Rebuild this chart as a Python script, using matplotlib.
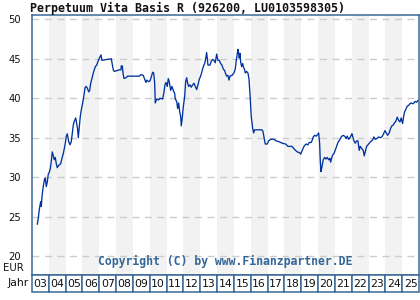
import matplotlib
matplotlib.use("Agg")
import matplotlib.pyplot as plt
from matplotlib.patches import Rectangle

title = "Perpetuum Vita Basis R (926200, LU0103598305)"
copyright_text = "Copyright (C) by www.Finanzpartner.DE"
year_labels = ["03", "04", "05", "06", "07", "08", "09", "10", "11", "12", "13", "14",
               "15", "16", "17", "18", "19", "20", "21", "22", "23", "24", "25"]
first_year = 2003
y_ticks = [20, 25, 30, 35, 40, 45, 50]

# time as years elapsed since start of 2003
t = [0.315, 0.374, 0.434, 0.517, 0.553, 0.594, 0.654, 0.731, 0.790, 0.850, 0.909, 0.969,
     1.028, 1.087, 1.147, 1.206, 1.266, 1.325, 1.384, 1.444, 1.503, 1.586, 1.705, 1.783,
     1.860, 1.919, 1.979, 2.038, 2.097, 2.181, 2.258, 2.335, 2.395, 2.454, 2.513, 2.597,
     2.656, 2.715, 2.751, 2.810, 2.870, 2.929, 3.012, 3.090, 3.149, 3.209, 3.286, 3.369,
     3.428, 3.488, 3.565, 3.642, 3.702, 3.761, 3.844, 3.963, 4.100, 4.159, 4.397, 4.712,
     4.831, 4.890, 5.187, 5.288, 5.306, 5.366, 5.407, 5.466, 5.585, 5.686, 6.376, 6.477,
     6.613, 6.697, 6.774, 6.833, 6.934, 7.011, 7.089, 7.172, 7.231, 7.291, 7.326, 7.409,
     7.528, 7.605, 7.766, 7.843, 7.903, 7.962, 8.039, 8.099, 8.158, 8.241, 8.318, 8.396,
     8.479, 8.515, 8.598, 8.657, 8.717, 8.776, 8.835, 8.871, 8.930, 8.990, 9.073, 9.132,
     9.192, 9.251, 9.311, 9.388, 9.465, 9.548, 9.626, 9.703, 9.786, 9.863, 9.941, 10.024,
     10.101, 10.178, 10.262, 10.321, 10.380, 10.458, 10.577, 10.654, 10.737, 10.814, 10.891,
     10.975, 11.052, 11.129, 11.212, 11.289, 11.367, 11.450, 11.509, 11.569, 11.646, 11.705,
     11.765, 11.884, 12.002, 12.080, 12.139, 12.199, 12.240, 12.282, 12.317, 12.359, 12.401,
     12.460, 12.520, 12.579, 12.638, 12.674, 12.757, 12.834, 12.894, 12.953, 13.030, 13.114,
     13.173, 13.232, 13.387, 13.666, 13.725, 13.785, 13.862, 13.981, 14.064, 14.183, 14.379,
     14.498, 14.676, 14.872, 15.074, 15.211, 15.449, 15.609, 15.764, 15.906, 15.966, 16.043,
     16.162, 16.281, 16.400, 16.477, 16.595, 16.655, 16.714, 16.797, 16.892, 16.976, 17.035,
     17.094, 17.130, 17.172, 17.231, 17.309, 17.392, 17.469, 17.546, 17.629, 17.706, 17.748,
     17.807, 17.867, 17.944, 18.021, 18.105, 18.182, 18.283, 18.378, 18.479, 18.580, 18.675,
     18.734, 18.818, 18.895, 18.972, 19.014, 19.133, 19.210, 19.293, 19.370, 19.447, 19.507,
     19.608, 19.685, 19.744, 19.804, 19.887, 19.964, 20.042, 20.125, 20.244, 20.321, 20.398,
     20.499, 20.600, 20.695, 20.796, 20.897, 20.974, 21.052, 21.135, 21.230, 21.313, 21.390,
     21.468, 21.551, 21.628, 21.705, 21.789, 21.866, 21.943, 22.026, 22.086, 22.145, 22.222,
     22.299, 22.383, 22.460, 22.537, 22.620, 22.698, 22.775, 22.858, 22.935]
price = [24.05, 24.8, 25.9, 26.9, 26.3, 27.5, 28.6, 29.6, 29.9, 28.8, 29.4, 30.4,
         30.6, 31.1, 32.0, 33.2, 32.7, 32.2, 32.5, 31.7, 31.2, 31.5, 31.7, 32.4,
         33.0, 33.6, 34.3, 35.2, 35.5, 34.5, 34.1, 34.5, 35.6, 36.6, 37.1, 37.5,
         36.8, 36.0, 35.0, 36.3, 37.7, 38.5, 39.4, 40.4, 41.3, 41.5, 41.3, 40.8,
         41.0, 41.9, 42.5, 43.2, 43.6, 44.0, 44.2, 44.9, 45.5, 44.8, 44.9, 45.0,
         43.6, 43.4, 43.6, 43.6, 44.1, 44.1, 43.2, 42.5, 42.6, 42.8, 42.8, 43.0,
         42.9, 42.4, 42.0, 42.3, 42.1, 42.2, 42.7, 43.3, 43.2, 41.9, 39.4, 39.9,
         39.8, 40.0, 39.9, 40.8, 41.7, 42.0, 41.5, 42.5, 42.1, 41.0, 41.5, 41.0,
         40.6, 39.9, 39.6, 38.7, 39.4, 38.3, 37.7, 36.5, 37.5, 38.9, 40.2, 42.1,
         42.6, 41.9, 41.5, 41.7, 41.4, 41.7, 41.9, 41.5, 41.1, 41.7, 42.4, 42.8,
         43.4, 44.0, 44.4, 45.0, 45.8, 44.2, 44.2, 44.7, 44.9, 44.8, 44.5,
         45.6, 44.8, 44.8, 44.4, 44.2, 43.7, 43.5, 43.1, 42.8, 42.9, 42.3,
         42.8, 42.9, 43.2, 43.7, 44.8, 45.6, 46.2, 45.7, 45.1, 45.7, 44.6,
         44.0, 44.4, 43.9, 43.6, 43.2, 43.4, 43.2, 42.5, 40.6, 37.7, 36.2,
         35.6, 36.0, 36.0, 36.0, 35.8, 35.1, 34.2, 34.2, 34.6, 34.8, 34.8,
         34.6, 34.5, 34.3, 34.2, 33.9, 33.9, 33.5, 33.2, 33.1, 32.9, 33.3,
         33.9, 34.2, 34.1, 34.4, 34.4, 34.7, 35.1, 35.3, 35.2, 35.4, 35.6,
         34.3, 32.2, 30.7, 31.3, 32.2, 32.5, 32.3, 32.5, 32.2, 32.4, 31.9,
         32.4, 32.8, 33.0, 33.4, 33.9, 34.4, 34.7, 35.1, 35.3, 35.2, 34.9,
         35.2, 34.8, 35.0, 35.3, 35.5, 34.6, 34.3, 34.6, 34.6, 33.4, 33.9,
         33.6, 33.4, 32.7, 33.2, 33.9, 34.1, 34.3, 34.5, 34.7, 35.1, 34.8,
         34.9, 35.1, 35.0, 35.1, 35.5, 35.9, 35.6, 35.3, 35.6, 36.2, 36.5,
         36.6, 36.9, 37.1, 37.6, 37.2, 37.0, 37.5, 36.8, 37.7, 38.3, 38.6,
         39.0, 39.1, 39.3, 39.4, 39.3, 39.4, 39.6, 39.5, 39.7]

W, H = 420, 300
frame_color = "#3a6897"
line_color = "#0033a0"
band_color = "#f2f2f2"
grid_color = "#cccccc"

fig = plt.figure(figsize=(W / 100, H / 100), dpi=100)
fig.patch.set_facecolor("white")

x0, x1 = 32, 419
ytop, ybot = 15, 275
ax = fig.add_axes([x0 / W, 1 - ybot / H, (x1 - x0) / W, (ybot - ytop) / H])
n_years = len(year_labels)
ax.set_xlim(first_year, first_year + n_years)
ax.set_ylim(17.6, 50.55)

for i in range(n_years):
    if i % 2 == 1:
        ax.axvspan(first_year + i, first_year + i + 1, color=band_color, lw=0, zorder=0)

for v in y_ticks:
    ax.axhline(v, color=grid_color, lw=1.0, linestyle=(0, (5, 4)), zorder=1)

xs = [first_year + v for v in t]
ax.plot(xs, price, color=line_color, lw=0.95, zorder=3)

ax.set_yticks(y_ticks)
ax.set_yticklabels([str(v) for v in y_ticks], fontsize=7.2, color="#111111",
                   family="DejaVu Sans")
ax.tick_params(axis="y", length=0, pad=7.8)
ax.set_xticks([])
for s in ax.spines.values():
    s.set_color(frame_color)
    s.set_linewidth(1.1)

ax.text(0.5, 0.025, copyright_text, transform=ax.transAxes, ha="center", va="bottom",
        fontsize=8.3, color="#336699", family="DejaVu Sans Mono", fontweight="bold")

# year row
yr_top, yr_bot = 275, 292
ax2 = fig.add_axes([x0 / W, 1 - yr_bot / H, (x1 - x0) / W, (yr_bot - yr_top) / H])
ax2.set_xlim(first_year, first_year + n_years)
ax2.set_ylim(0, 1)
ax2.axis("off")
for i, lab in enumerate(year_labels):
    ax2.add_patch(Rectangle((first_year + i, 0), 1, 1, facecolor="white",
                            edgecolor=frame_color, lw=1.1, clip_on=False))
    ax2.text(first_year + i + 0.5, 0.47, lab, ha="center", va="center",
             fontsize=7.8, color="#111111", family="DejaVu Sans")

fig.text(30 / W, 1 - 8 / H, title, ha="left", va="center", fontsize=8.4,
         family="DejaVu Sans Mono", fontweight="bold", color="#111111")
fig.text(24 / W, 1 - 268 / H, "EUR", ha="right", va="center", fontsize=7.3,
         color="#111111", family="DejaVu Sans")
fig.text(29 / W, 1 - 283.5 / H, "Jahr", ha="right", va="center", fontsize=7.8,
         color="#111111", family="DejaVu Sans")

fig.savefig("out.png", dpi=100)
